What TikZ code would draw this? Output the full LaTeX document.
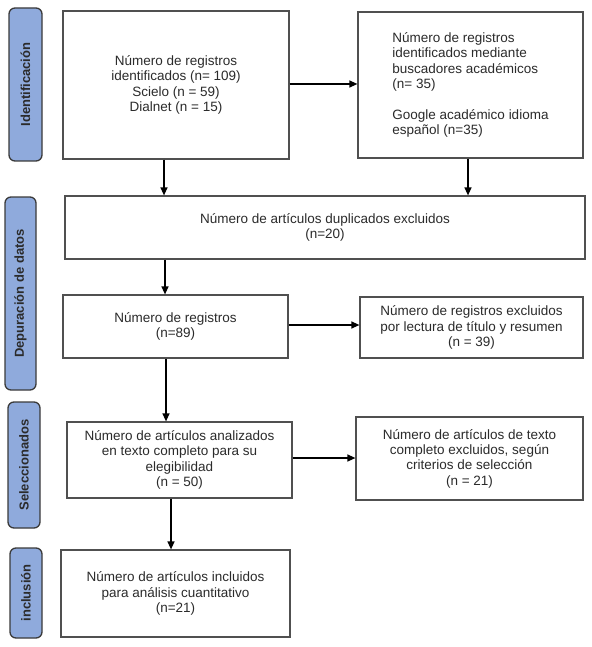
\documentclass[tikz,border=0pt]{standalone}
\usepackage{fontspec}
\setmainfont{Liberation Sans}
\usetikzlibrary{arrows.meta,calc}
\definecolor{sidefill}{HTML}{8FAADC}
\definecolor{sidedraw}{HTML}{3A3A3A}
\definecolor{boxdraw}{HTML}{505050}
\definecolor{txt}{HTML}{2B2B2B}
\begin{document}
\begin{tikzpicture}[x=1pt,y=-1pt,
  box/.style={draw=boxdraw,line width=1.2pt,fill=white,inner sep=0pt,align=center,
    text=txt,font=\fontsize{13.5}{15.3}\selectfont},
  side/.style={draw=sidedraw,line width=1.3pt,fill=sidefill,rounded corners=6pt,
    rotate=90,inner sep=0pt,text=txt,font=\fontsize{13}{15}\selectfont\bfseries},
  arr/.style={draw=black,line width=1.3pt,-{Triangle[length=8pt,width=7pt]}}]
\useasboundingbox (0,0) rectangle (591,647);
% side labels
\node[side,minimum width=153,minimum height=33] (s1) at (25.5,84.5) {Identificación};
\node[side,minimum width=193,minimum height=31] (s2) at (20.5,293.5) {Depuración de datos};
\node[side,minimum width=126,minimum height=32] (s3) at (24,465) {Seleccionados};
\node[side,minimum width=90,minimum height=32] (s4) at (26,593) {inclusión};
% boxes
\node[box,minimum width=226,minimum height=148] (b1) at (176,85)
  {Número de registros\\identificados (n= 109)\\Scielo (n = 59)\\Dialnet (n = 15)};
\node[box,minimum width=225,minimum height=146,align=left] (b2) at (470.5,85)
  {Número de registros\\identificados mediante\\buscadores académicos\\(n= 35)\\[15.3pt]Google académico idioma\\español (n=35)};
\node[box,minimum width=520,minimum height=63] (b3) at (325,227.5)
  {Número de artículos duplicados excluidos\\(n=20)};
\node[box,minimum width=225,minimum height=63] (b4) at (175.5,326.5)
  {Número de registros\\(n=89)};
\node[box,minimum width=223,minimum height=61] (b5) at (471.5,327.5)
  {Número de registros excluidos\\por lectura de título y resumen\\(n = 39)};
\node[box,minimum width=225,minimum height=76] (b6) at (179.5,460)
  {Número de artículos analizados\\en texto completo para su\\elegibilidad\\(n = 50)};
\node[box,minimum width=227,minimum height=83] (b7) at (469.5,458.5)
  {Número de artículos de texto\\completo excluidos, según\\criterios de selección\\(n = 21)};
\node[box,minimum width=229,minimum height=87] (b8) at (175.5,593.5)
  {Número de artículos incluidos\\para análisis cuantitativo\\(n=21)};
% connectors
\coordinate (h1) at ([yshift=1pt]b1.east);
\draw[arr] (h1) -- (h1 -| b2.west);
\coordinate (a1) at ([xshift=-12pt]b1.south);
\draw[arr] (a1) -- (a1 |- b3.north);
\coordinate (a2) at ([xshift=-2.5pt]b2.south);
\draw[arr] (a2) -- (a2 |- b3.north);
\coordinate (a3) at ([xshift=-10.5pt]b4.north);
\draw[arr] (a3 |- b3.south) -- (a3);
\coordinate (h2) at ([yshift=1.5pt]b4.east);
\draw[arr] (h2) -- (h2 -| b5.west);
\coordinate (a4) at ([xshift=-9.5pt]b4.south);
\draw[arr] (a4) -- (a4 |- b6.north);
\coordinate (h3) at ([yshift=2pt]b6.east);
\draw[arr] (h3) -- (h3 -| b7.west);
\coordinate (a5) at ([xshift=-8.5pt]b6.south);
\draw[arr] (a5) -- (a5 |- b8.north);
\end{tikzpicture}
\end{document}
